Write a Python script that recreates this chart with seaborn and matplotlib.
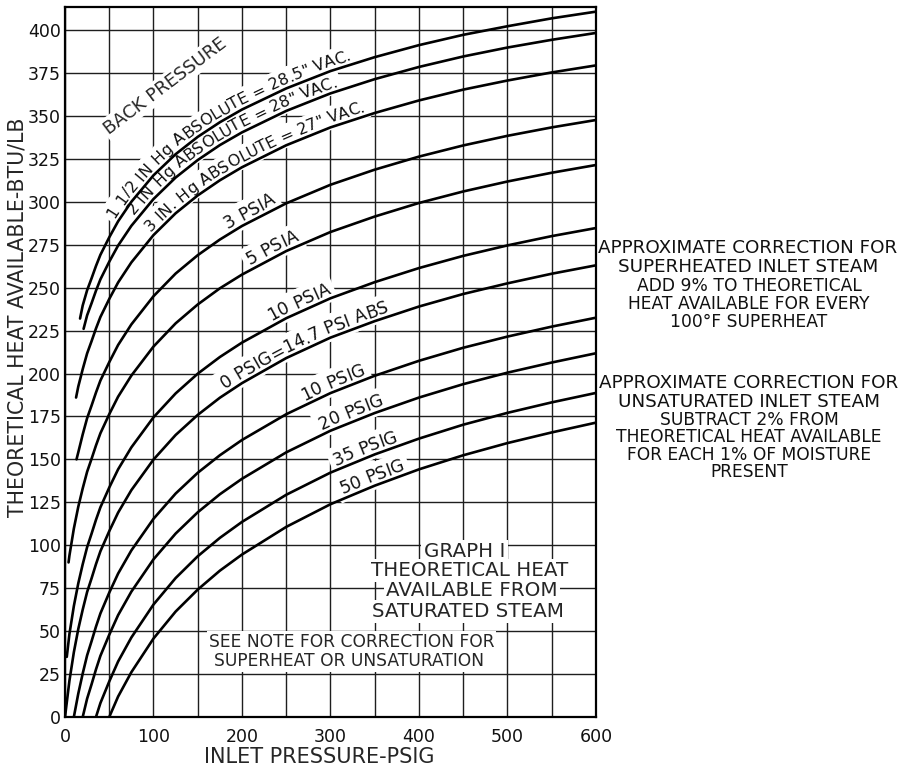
import matplotlib
matplotlib.use("Agg")
import matplotlib.pyplot as plt
from matplotlib.font_manager import FontProperties
import numpy as np
import pandas as pd
import seaborn as sns

sns.set_style("white")
plt.rcParams['font.family'] = ['DejaVu Sans']

# inlet pressure grid, psig
INLET_PSIG = [0, 5, 10, 15, 20, 25, 30, 35, 40, 50, 60, 75, 100, 125, 150, 175, 200,
              250, 300, 350, 400, 450, 500, 550, 600]

# theoretical heat available, btu/lb, one list per back pressure (None = no curve there)
HG_1_5 = [None, None, None, None, 239.6, 248.5, 255.4, 262.6, 269.1, 279.3, 288.6, 300.0, 315.4,
          327.7, 337.8, 346.3, 353.7, 366.0, 376.1, 384.2, 391.2, 397.2, 402.2, 406.8, 410.7]
HG_2 = [None, None, None, None, None, 233.9, 240.9, 248.2, 254.8, 265.1, 274.5, 286.0, 301.6,
        314.1, 324.3, 333.0, 340.4, 352.9, 363.1, 371.4, 378.5, 384.6, 389.8, 394.3, 398.3]
HG_3 = [None, None, None, 192.4, 202.5, 211.7, 218.8, 226.2, 232.9, 243.4, 253.0, 264.7, 280.6,
        293.3, 303.7, 312.5, 320.1, 332.9, 343.3, 351.7, 359.0, 365.3, 370.6, 375.3, 379.4]
PSIA_3 = [None, None, None, 154.1, 164.5, 174.0, 181.3, 188.9, 195.9, 206.6, 216.6, 228.6, 245.0,
          258.2, 268.9, 278.0, 285.9, 299.1, 309.9, 318.7, 326.3, 332.8, 338.4, 343.3, 347.6]
PSIA_5 = [None, 94.0, 109.7, 122.4, 133.1, 142.8, 150.3, 158.1, 165.2, 176.3, 186.5, 198.8, 215.7,
          229.2, 240.2, 249.6, 257.6, 271.3, 282.4, 291.4, 299.3, 306.0, 311.8, 316.9, 321.4]
PSIA_10 = [None, 48.3, 64.6, 77.8, 88.9, 98.9, 106.7, 114.8, 122.1, 133.6, 144.2, 157.0, 174.5,
           188.4, 199.9, 209.6, 218.0, 232.2, 243.8, 253.2, 261.4, 268.5, 274.6, 280.0, 284.7]
PSIG_0 = [0, 21.1, 37.7, 51.2, 62.5, 72.8, 80.7, 89.0, 96.5, 108.2, 119.0, 132.1, 149.9,
          164.2, 175.9, 185.9, 194.4, 209.0, 220.9, 230.5, 239.0, 246.3, 252.5, 258.1, 263.0]
PSIG_10 = [None, None, 0, 13.6, 25.3, 35.9, 44.1, 52.6, 60.3, 72.4, 83.5, 97.0, 115.4,
           130.1, 142.2, 152.4, 161.3, 176.3, 188.6, 198.7, 207.4, 215.0, 221.5, 227.3, 232.5]
PSIG_20 = [None, None, None, None, 0, 10.7, 19.0, 27.7, 35.6, 47.9, 59.3, 73.0, 91.8,
           106.8, 119.2, 129.7, 138.7, 154.1, 166.7, 177.0, 186.0, 193.8, 200.5, 206.4, 211.8]
PSIG_35 = [None, None, None, None, None, None, None, 0, 8.1, 20.7, 32.3, 46.3, 65.5,
           80.9, 93.6, 104.3, 113.6, 129.4, 142.3, 152.9, 162.1, 170.2, 177.1, 183.2, 188.7]
PSIG_50 = [None, None, None, None, None, None, None, None, None, 0, 11.9, 26.1, 45.7,
           61.4, 74.2, 85.2, 94.6, 110.7, 123.9, 134.7, 144.2, 152.4, 159.5, 165.7, 171.4]

# where the upper curves begin (psig, btu/lb)
START_PSIG = [17, 21, 12.5, 13, 4, 2, None, None, None, None, None]
START_BTU = [232, 226, 186, 150, 90, 35, None, None, None, None, None]

CURVE_NAMES = ['1.5 in Hg', '2 in Hg', '3 in Hg', '3 psia', '5 psia', '10 psia',
               '0 psig', '10 psig', '20 psig', '35 psig', '50 psig']
CURVES = [HG_1_5, HG_2, HG_3, PSIA_3, PSIA_5, PSIA_10, PSIG_0, PSIG_10, PSIG_20, PSIG_35, PSIG_50]

rows = []
for name, vals, sx, sy in zip(CURVE_NAMES, CURVES, START_PSIG, START_BTU):
    if sx is not None:
        rows.append((name, sx, sy))
    for x, v in zip(INLET_PSIG, vals):
        if v is not None:
            rows.append((name, x, v))
df = pd.DataFrame(rows, columns=['curve', 'psig', 'btu'])

fig = plt.figure(figsize=(9.03, 7.71), dpi=100)
ax = fig.add_axes([65 / 903, 54 / 771, 531 / 903, 710 / 771])

sns.lineplot(data=df, x='psig', y='btu', hue='curve', palette={n: 'black' for n in CURVE_NAMES},
             estimator=None, sort=False, legend=False, linewidth=1.9, ax=ax, zorder=4)

ax.set_xlim(0, 600)
ax.set_ylim(0, 413.4)
ax.set_xticks(range(0, 601, 100))
ax.set_xticks(range(0, 601, 50), minor=True)
ax.set_yticks(range(0, 401, 25))
ax.set_axisbelow(True)
ax.grid(which='both', color='#1e1e1e', linewidth=1.0)
ax.tick_params(which='both', length=0, labelsize=12.5, colors='#111111')
ax.tick_params(axis='x', pad=8)
ax.tick_params(axis='y', pad=3)
for sp in ax.spines.values():
    sp.set_color('black')
    sp.set_linewidth(1.6)

ax.set_xlabel('INLET PRESSURE-PSIG', fontsize=15)
ax.set_ylabel('THEORETICAL HEAT AVAILABLE-BTU/LB', fontsize=14.8)
ax.xaxis.set_label_coords((319 - 65) / 531, (717 - 757) / 710)
ax.xaxis.label.set_va('center')
ax.yaxis.set_label_coords((17.5 - 65) / 531, (717 - 317) / 710)
ax.yaxis.label.set_va('center')

white = dict(boxstyle='square,pad=0.12', fc='white', ec='none')
char_box = dict(boxstyle='square,pad=0.25', fc='white', ec='none')
renderer = fig.canvas.get_renderer()


def plain_text(x, y, s, rot, size=12.5):
    ax.text(x, y, s, rotation=rot, rotation_mode='anchor', ha='center', va='center',
            fontsize=size, zorder=3, bbox=white)


def char_offsets(s, size):
    prop = FontProperties(family='DejaVu Sans', size=size)
    base = renderer.get_text_width_height_descent('I', prop, ismath=False)[0]
    return [renderer.get_text_width_height_descent(s[:i] + 'I', prop, ismath=False)[0] - base
            for i in range(len(s) + 1)]


def curve_label(name, x_at, s, size=12.5, gap=4.5, align='center'):
    # hand-lettered look: each character follows the curve, a few pixels above it
    part = df[df['curve'] == name]
    xs, ys = part['psig'].to_numpy(float), part['btu'].to_numpy(float)
    xd = np.linspace(xs[0], xs[-1], 800)
    pts = ax.transData.transform(np.column_stack([xd, np.interp(xd, xs, ys)]))
    arc = np.concatenate([[0], np.cumsum(np.hypot(*np.diff(pts, axis=0).T))])

    def at(a):
        return np.array([np.interp(a, arc, pts[:, 0]), np.interp(a, arc, pts[:, 1])])

    pos = char_offsets(s, size)
    a0 = np.interp(x_at, xd, arc)
    start = a0 - pos[-1] / 2 if align == 'center' else a0
    for i, ch in enumerate(s):
        ac = start + (pos[i] + pos[i + 1]) / 2
        half = max(pos[i + 1] - pos[i], 8)
        d = at(ac + half) - at(ac - half)
        ang = np.arctan2(d[1], d[0])
        p = at(ac) + gap * np.array([-np.sin(ang), np.cos(ang)])
        xq, yq = ax.transData.inverted().transform(p)
        kw = dict(rotation=np.degrees(ang), rotation_mode='anchor', ha='center',
                  va='baseline', fontsize=size)
        # white patch under every character (spaces too) hides the grid behind the lettering
        ax.text(xq, yq, 'n' if ch == ' ' else ch, color='white', zorder=2.9, bbox=char_box, **kw)
        if ch != ' ':
            ax.text(xq, yq, ch, color='#111111', zorder=3.1, **kw)


plain_text(113, 367.4, 'BACK PRESSURE', 37, 13)
curve_label('1.5 in Hg', 60, '1 1/2 IN Hg ABSOLUTE = 28.5" VAC.', 11.5, align='start')
curve_label('2 in Hg', 82, '2 IN Hg ABSOLUTE = 28" VAC.', 11.5, align='start')
curve_label('3 in Hg', 100, '3 IN. Hg ABSOLUTE = 27" VAC.', 11.5, align='start')
curve_label('3 psia', 214, '3 PSIA')
curve_label('5 psia', 239, '5 PSIA')
curve_label('10 psia', 269, '10 PSIA')
curve_label('0 psig', 183, '0 PSIG=14.7 PSI ABS', align='start')
curve_label('10 psig', 307, '10 PSIG')
curve_label('20 psig', 327, '20 PSIG')
curve_label('35 psig', 343, '35 PSIG')
curve_label('50 psig', 351, '50 PSIG')

for s, x, y in [('GRAPH I', 451.4, 96.4), ('THEORETICAL HEAT', 457.6, 85.3),
                ('AVAILABLE FROM', 459.9, 73.7), ('SATURATED STEAM', 455.9, 61.4)]:
    plain_text(x, y, s, 0, 14.3)
plain_text(323.7, 43.4, 'SEE NOTE FOR CORRECTION FOR', 0, 12.3)
plain_text(320.9, 32.6, 'SUPERHEAT OR UNSATURATION', 0, 12.3)

# correction notes to the right of the chart
notes = [
    ('APPROXIMATE CORRECTION FOR\nSUPERHEATED INLET STEAM', 748, 257.5, 13.2, 1.12),
    ('ADD 9% TO THEORETICAL\nHEAT AVAILABLE FOR EVERY\n100°F SUPERHEAT', 749, 304.5, 12.3, 1.0),
    ('APPROXIMATE CORRECTION FOR\nUNSATURATED INLET STEAM', 748.5, 392.5, 13.2, 1.12),
    ('SUBTRACT 2% FROM\nTHEORETICAL HEAT AVAILABLE\nFOR EACH 1% OF MOISTURE\nPRESENT',
     749, 446, 12.3, 0.93),
]
for s, px, py, size, ls in notes:
    fig.text(px / 903, 1 - py / 771, s, ha='center', va='center', multialignment='center',
             fontsize=size, linespacing=ls, color='#111111')

fig.savefig('out.png', dpi=100)
